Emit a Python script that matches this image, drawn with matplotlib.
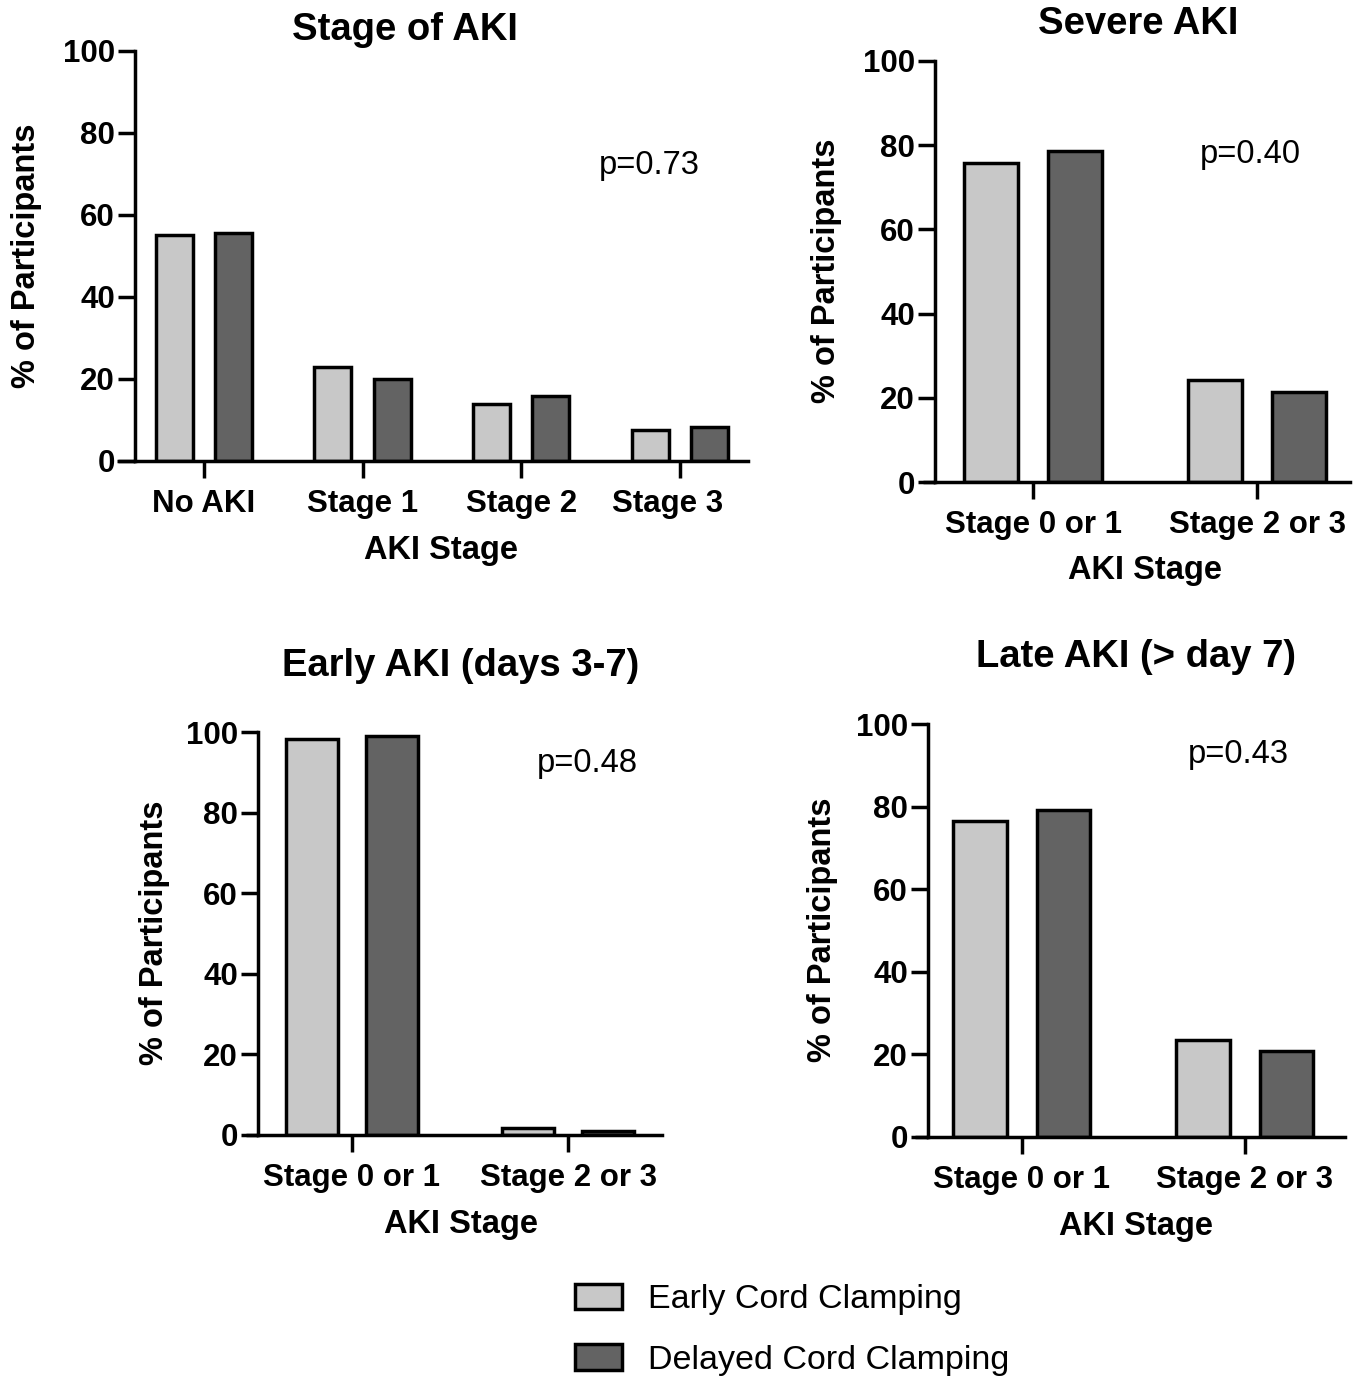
import matplotlib.pyplot as plt
import matplotlib.transforms as mtransforms

plt.rcParams['font.family'] = ['Liberation Sans', 'DejaVu Sans']

# ---- data ----
series = ['Early Cord Clamping', 'Delayed Cord Clamping']
colors = ['#c8c8c8', '#636363']

stage_cats = ['No AKI', 'Stage 1', 'Stage 2', 'Stage 3']
stage_early = [55.2, 23.0, 13.8, 7.5]
stage_delayed = [55.6, 20.0, 15.8, 8.3]

two_cats = ['Stage 0 or 1', 'Stage 2 or 3']
severe_early = [75.8, 24.2]
severe_delayed = [78.6, 21.4]
early_aki_early = [98.2, 1.8]
early_aki_delayed = [98.9, 1.1]
late_aki_early = [76.6, 23.4]
late_aki_delayed = [79.2, 20.8]

titles = ['Stage of AKI', 'Severe AKI', 'Early AKI (days 3-7)', 'Late AKI (> day 7)']
pvals = ['p=0.73', 'p=0.40', 'p=0.48', 'p=0.43']

W, H = 1362, 1378
LW = 2.5


def rect(left, right, y0, y100):
    return [left / W, 1 - y0 / H, (right - left) / W, (y0 - y100) / H]


def draw(ax, cats, early, delayed, xlim, width, title, title_xy, pval, pval_xy,
         ylab_xy, xlab_xy):
    x = list(range(len(cats)))
    off = 0.187
    bars = []
    for vals, col, sign in [(early, colors[0], -1), (delayed, colors[1], 1)]:
        b = ax.bar([i + sign * off for i in x], vals, width=width, color=col,
                   edgecolor='black', linewidth=LW, zorder=2)
        bars.append(b)
    ax.set_xlim(*xlim)
    ax.set_ylim(0, 100)
    ax.set_yticks([0, 20, 40, 60, 80, 100])
    ax.set_xticks(x)
    ax.set_xticklabels(cats)
    for s in ['top', 'right']:
        ax.spines[s].set_visible(False)
    for s in ['left', 'bottom']:
        ax.spines[s].set_linewidth(LW)
    ax.spines['bottom'].set_zorder(3)
    # x axis line continues left under the y ticks
    ax.plot([-0.03, 0], [0, 0], transform=ax.get_yaxis_transform(), color='black',
            lw=LW, clip_on=False, solid_capstyle='butt')
    ax.tick_params(axis='both', direction='out', length=12.5, width=LW,
                   labelsize=22.5)
    ax.tick_params(axis='x', pad=8)
    ax.tick_params(axis='y', pad=2)
    for lab in ax.get_xticklabels() + ax.get_yticklabels():
        lab.set_fontweight('bold')
    ax.set_ylabel('% of Participants', fontsize=23.5, fontweight='bold', va='center')
    ax.yaxis.set_label_coords(ylab_xy[0] / W, 1 - ylab_xy[1] / H, transform=fig.transFigure)
    ax.set_xlabel('AKI Stage', fontsize=23.5, fontweight='bold', va='center')
    ax.xaxis.set_label_coords(xlab_xy[0] / W, 1 - xlab_xy[1] / H, transform=fig.transFigure)
    fig.text(title_xy[0] / W, 1 - title_xy[1] / H, title, fontsize=27.5,
             fontweight='bold', ha='center', va='center')
    ax.text(pval_xy[0], pval_xy[1], pval, fontsize=23.5, ha='center', va='center')
    return bars


fig = plt.figure(figsize=(13.62, 13.78), dpi=100)

ax1 = fig.add_axes(rect(135, 748, 461, 51))
bars = draw(ax1, stage_cats, stage_early, stage_delayed, (-0.435, 3.43), 0.233,
            titles[0], (405, 30), pvals[0], (2.81, 72), (27, 256), (441, 550))
# last label sits a little left of its tick in the original
last = ax1.get_xticklabels()[-1]
last.set_transform(last.get_transform() +
                   mtransforms.ScaledTranslation(-12 / 100, 0, fig.dpi_scale_trans))

ax2 = fig.add_axes(rect(935, 1350, 482, 61))
draw(ax2, two_cats, severe_early, severe_delayed, (-0.4375, 1.415), 0.24,
     titles[1], (1138, 24), pvals[1], (0.97, 77.7), (826, 271), (1145, 571))

ax3 = fig.add_axes(rect(258, 662, 1135, 732))
draw(ax3, two_cats, early_aki_early, early_aki_delayed, (-0.435, 1.435), 0.24,
     titles[2], (461, 666), pvals[2], (1.09, 92.3), (155, 933), (461, 1224))

ax4 = fig.add_axes(rect(928, 1345, 1137, 724))
draw(ax4, two_cats, late_aki_early, late_aki_delayed, (-0.42, 1.45), 0.24,
     titles[3], (1136, 657), pvals[3], (0.97, 92.5), (822, 930), (1136, 1226))

fig.legend(bars, series, loc='upper left', bbox_to_anchor=(575 / W, 1 - 1284 / H),
           frameon=False, fontsize=24.5, handlelength=1.38, handleheight=0.76,
           handletextpad=0.76, labelspacing=0.85, borderpad=0, borderaxespad=0)

fig.savefig('out.png', dpi=100)
